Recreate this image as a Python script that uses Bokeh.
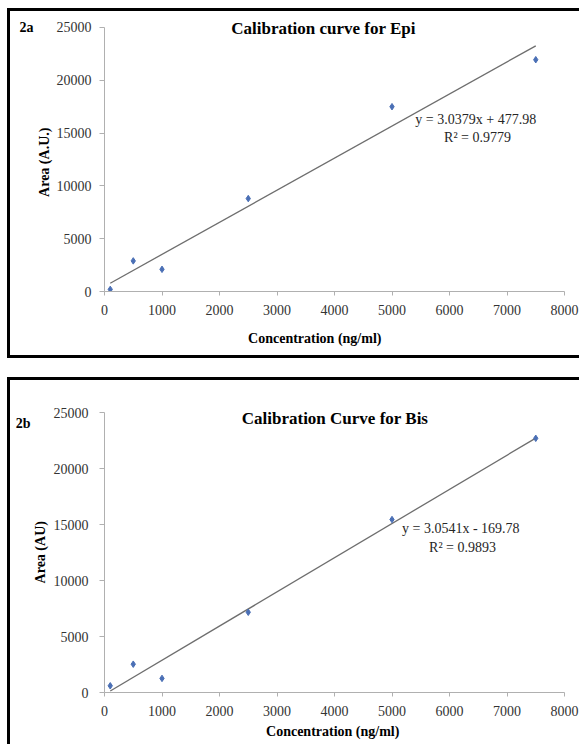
import numpy as np
from bokeh.plotting import figure
from bokeh.models import Label, FixedTicker, NumeralTickFormatter, LinearAxis
from bokeh.layouts import column
from bokeh.embed import file_html
from bokeh.resources import INLINE

# ---- data ----
conc = [100, 500, 1000, 2500, 5000, 7500]
epi_area = [200, 2900, 2100, 8800, 17500, 21950]
bis_area = [600, 2530, 1260, 7170, 15460, 22720]
epi_slope, epi_intercept, epi_r2 = 3.0379, 477.98, 0.9779
bis_slope, bis_intercept, bis_r2 = 3.0541, -169.78, 0.9893
x_ticks = [0, 1000, 2000, 3000, 4000, 5000, 6000, 7000, 8000]
y_ticks = [0, 5000, 10000, 15000, 20000, 25000]

SERIF = "Liberation Serif"
AXIS_COL = "#b0b0b0"
TICK_TXT = "#333333"
MARK_COL = "#4a6fb5"
LINE_COL = "#6e6e6e"


def style_axis(ax):
    ax.axis_line_color = AXIS_COL
    ax.major_tick_line_color = AXIS_COL
    ax.minor_tick_line_color = None
    ax.major_tick_in = 0
    ax.major_label_text_font = SERIF
    ax.major_label_text_font_size = "14px"
    ax.major_label_text_color = TICK_TXT
    ax.axis_label_text_font = SERIF
    ax.axis_label_text_font_size = "14px"
    ax.axis_label_text_font_style = "bold"
    ax.axis_label_text_color = "black"
    ax.formatter = NumeralTickFormatter(format="0")


def text_axis(where_value, text, standoff, vertical=False):
    """An axis without line or ticks that carries one bold text."""
    ax = LinearAxis(ticker=FixedTicker(ticks=[where_value]),
                    major_label_overrides={where_value: text})
    ax.axis_line_color = None
    ax.major_tick_line_color = None
    ax.minor_tick_line_color = None
    ax.major_tick_in = 0
    ax.major_tick_out = 0
    ax.major_label_standoff = standoff
    ax.major_label_text_font = SERIF
    ax.major_label_text_font_size = "14px"
    ax.major_label_text_font_style = "bold"
    ax.major_label_text_color = "black"
    if vertical:
        ax.major_label_orientation = "vertical"
    return ax


def make_panel(area, slope, intercept, r2, title, eq_text,
               w, h, bl, bt, br, bb, ytop, borders,
               y_std, x_std, title_xy, eq_xy, r2_xy):
    p = figure(width=w, height=h, x_range=(0, 8000), y_range=(0, ytop),
               output_backend="svg", toolbar_location=None,
               min_border_left=bl, min_border_top=bt,
               min_border_right=br, min_border_bottom=bb)
    p.outline_line_color = None
    p.grid.visible = False
    p.background_fill_color = "white"
    p.border_fill_color = "white"
    st = {"box-sizing": "border-box"}
    for b in borders:
        st["border-" + b] = "3px solid black"
    p.styles = st

    style_axis(p.xaxis[0])
    style_axis(p.yaxis[0])
    p.xaxis.ticker = FixedTicker(ticks=x_ticks)
    p.yaxis.ticker = FixedTicker(ticks=y_ticks)
    p.yaxis.bounds = (0, 25000)
    p.xaxis.major_tick_out = 4
    p.yaxis.major_tick_out = 5
    p.yaxis.major_label_standoff = y_std
    p.xaxis.major_label_standoff = x_std

    fx = np.array([min(conc), max(conc)], dtype=float)
    fy = slope * fx + intercept
    p.line(fx, fy, line_color=LINE_COL, line_width=1.3)
    p.scatter(conc, area, marker="diamond", size=6.5, color=MARK_COL)

    p.add_layout(Label(x=title_xy[0], y=title_xy[1], text=title,
                       text_font=SERIF, text_font_size="17px",
                       text_font_style="bold", text_align="center",
                       text_baseline="middle", text_color="black"))
    p.add_layout(Label(x=eq_xy[0], y=eq_xy[1], text=eq_text,
                       text_font=SERIF, text_font_size="14px",
                       text_align="center", text_baseline="middle",
                       text_color="#262626"))
    p.add_layout(Label(x=r2_xy[0], y=r2_xy[1], text="R² = %.4f" % r2,
                       text_font=SERIF, text_font_size="14px",
                       text_align="center", text_baseline="middle",
                       text_color="#262626"))
    return p


# ---- panel 2a ----
p1 = make_panel(epi_area, epi_slope, epi_intercept, epi_r2,
                "Calibration curve for Epi", "y = 3.0379x  + 477.98",
                w=572, h=350, bl=94, bt=1, br=18, bb=70, ytop=26420,
                borders=("left", "top", "bottom"),
                y_std=8, x_std=9,
                title_xy=(3809, 24906), eq_xy=(6487, 16288),
                r2_xy=(6487, 14583))
p1.add_layout(text_axis(12406, "Area  (A.U.)", 1, vertical=True), "left")
p1.add_layout(text_axis(25000, "2a", 1), "left")
p1.add_layout(text_axis(3687, "Concentration  (ng/ml)", 13), "below")
p1.margin = (8, 0, 0, 7)

# ---- panel 2b ----
p2 = make_panel(bis_area, bis_slope, bis_intercept, bis_r2,
                "Calibration Curve for Bis", "y = 3.0541x  - 169.78",
                w=572, h=367, bl=86, bt=20, br=17, bb=55, ytop=26099,
                borders=("left", "top"),
                y_std=11, x_std=9,
                title_xy=(4009, 24490), eq_xy=(6227, 14658),
                r2_xy=(6227, 12960))
p2.xaxis[0].axis_label = "Concentration  (ng/ml)"
p2.xaxis[0].axis_label_standoff = 5
p2.add_layout(text_axis(12692, "Area  (AU)", 2, vertical=True), "left")
p2.add_layout(text_axis(24043, "2b", 0), "left")
p2.margin = (19, 0, 0, 7)

layout = column(p1, p2, spacing=0)
open("out.html", "w").write(file_html(layout, INLINE))
